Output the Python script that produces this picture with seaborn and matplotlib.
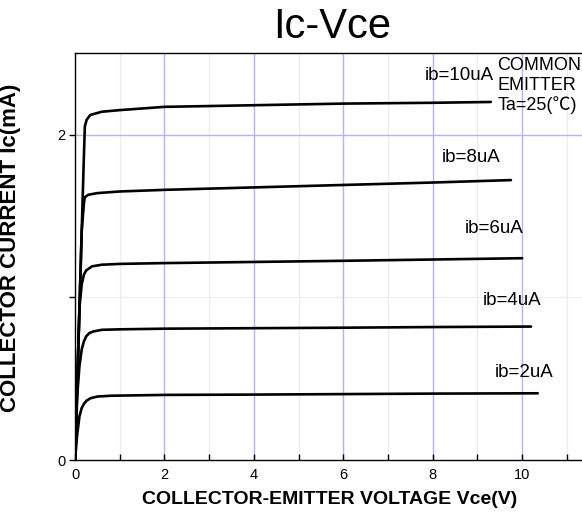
import matplotlib
matplotlib.use("Agg")
import matplotlib.pyplot as plt
import seaborn as sns
import pandas as pd
from matplotlib.ticker import FixedLocator

sns.set_style("white")
plt.rcParams['font.family'] = ['Liberation Sans Narrow', 'Liberation Sans', 'DejaVu Sans']
plt.rcParams['text.color'] = 'black'
plt.rcParams['axes.labelcolor'] = 'black'
plt.rcParams['xtick.color'] = 'black'
plt.rcParams['ytick.color'] = 'black'

# Data
vce_10 = [0, 0.05, 0.10, 0.15, 0.20, 0.22, 0.26, 0.34, 0.60, 1.0, 2.0, 4.0, 6.0, 8.0, 9.3]
ic_10  = [0, 0.47, 0.94, 1.41, 1.88, 2.05, 2.09, 2.12, 2.14, 2.15, 2.17, 2.18, 2.19, 2.195, 2.20]
vce_8  = [0, 0.05, 0.10, 0.15, 0.20, 0.22, 0.30, 0.50, 1.0, 2.0, 4.0, 6.0, 8.0, 9.75]
ic_8   = [0, 0.47, 0.94, 1.41, 1.58, 1.615, 1.63, 1.64, 1.65, 1.66, 1.675, 1.69, 1.705, 1.72]
vce_6  = [0, 0.05, 0.10, 0.15, 0.20, 0.25, 0.38, 0.60, 1.0, 2.0, 4.0, 6.0, 8.0, 10.0]
ic_6   = [0, 0.47, 0.94, 1.08, 1.14, 1.165, 1.19, 1.20, 1.205, 1.21, 1.217, 1.224, 1.232, 1.24]
vce_4  = [0, 0.05, 0.10, 0.15, 0.20, 0.25, 0.32, 0.41, 0.60, 1.0, 2.0, 4.0, 6.0, 8.0, 10.2]
ic_4   = [0, 0.40, 0.58, 0.68, 0.73, 0.76, 0.78, 0.79, 0.80, 0.803, 0.807, 0.81, 0.813, 0.817, 0.82]
vce_2  = [0, 0.05, 0.10, 0.15, 0.20, 0.26, 0.35, 0.50, 0.80, 2.0, 4.0, 6.0, 8.0, 10.35]
ic_2   = [0, 0.16, 0.27, 0.32, 0.345, 0.365, 0.38, 0.39, 0.395, 0.40, 0.402, 0.405, 0.408, 0.41]

series = ["ib=10uA", "ib=8uA", "ib=6uA", "ib=4uA", "ib=2uA"]
label_x = [8.6, 8.86, 9.37, 9.78, 10.04]
label_y = [2.36, 1.86, 1.42, 0.98, 0.54]

frames = []
for name, xs, ys in zip(series, [vce_10, vce_8, vce_6, vce_4, vce_2],
                        [ic_10, ic_8, ic_6, ic_4, ic_2]):
    frames.append(pd.DataFrame({"Vce": xs, "Ic": ys, "ib": name}))
df = pd.concat(frames, ignore_index=True)

fig = plt.figure(figsize=(5.82, 5.16), dpi=100)
ax = fig.add_axes([0.1289, 0.1085, 0.8711 + 0.02, 0.7885])

# grid
for xv in [1, 3, 5, 7, 9, 11]:
    ax.axvline(xv, color="#ececec", lw=0.8, zorder=0)
ax.axhline(1, color="#ececec", lw=0.8, zorder=0)
for xv in [2, 4, 6, 8, 10]:
    ax.axvline(xv, color="#b4b4f0", lw=1.0, zorder=0)
ax.axhline(2, color="#b4b4f0", lw=1.0, zorder=0)

sns.lineplot(data=df, x="Vce", y="Ic", hue="ib", palette=["black"] * 5,
             sort=False, estimator=None, legend=False, lw=1.9, ax=ax)

ax.set_xlim(0, 11.6)
ax.set_ylim(0, 2.5)
ax.xaxis.set_major_locator(FixedLocator([0, 2, 4, 6, 8, 10]))
ax.xaxis.set_minor_locator(FixedLocator([1, 3, 5, 7, 9, 11]))
ax.yaxis.set_major_locator(FixedLocator([0, 2]))
ax.yaxis.set_minor_locator(FixedLocator([1]))
ax.tick_params(axis="x", which="both", direction="in", length=4, width=1,
               labelsize=10.5, pad=6, bottom=True)
ax.tick_params(axis="y", which="both", direction="out", length=4, width=1,
               labelsize=10.5, pad=3, left=True)
for s in ax.spines.values():
    s.set_color("black")
    s.set_linewidth(1.0)

ax.set_xlabel("COLLECTOR-EMITTER VOLTAGE Vce(V)", fontsize=14, fontweight="bold",
              family=["Liberation Sans", "DejaVu Sans"])
ax.set_ylabel("COLLECTOR CURRENT Ic(mA)", fontsize=16, fontweight="bold",
              family=["Liberation Sans", "DejaVu Sans"])
ax.xaxis.set_label_coords((330 - 75) / (582 * 0.8911), -0.075)
ax.yaxis.set_label_coords(-(75 - 21) / (582 * 0.8911), (460 - 248) / 407)

for t, lx, ly in zip(series, label_x, label_y):
    ax.text(lx, ly, t, ha="center", va="center", fontsize=13.5)

ax.text(9.45, 2.475, "COMMON\nEMITTER\nTa=25(℃)", ha="left", va="top", fontsize=13,
        linespacing=1.2,
        family=['Liberation Sans Narrow', 'Liberation Sans', 'Noto Sans CJK SC', 'DejaVu Sans'])

fig.text(332 / 582, 1 - 27 / 516, "Ic-Vce", ha="center", va="center", fontsize=30)

fig.savefig("out.png", dpi=100)
